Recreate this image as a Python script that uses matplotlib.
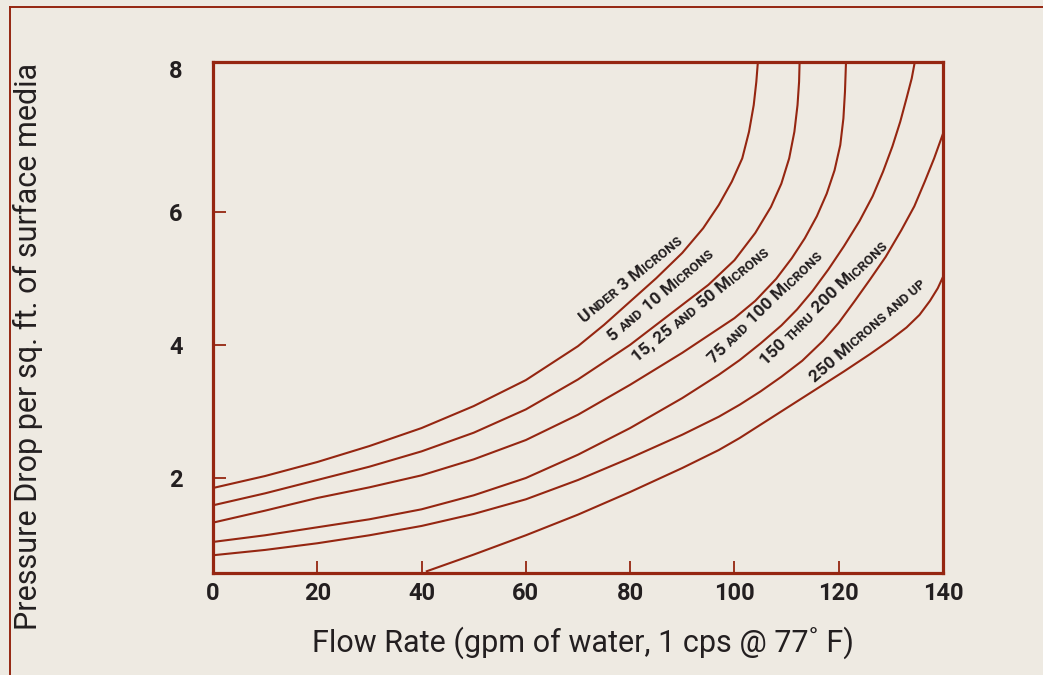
import numpy as np
import matplotlib
matplotlib.use("Agg")
from matplotlib import pyplot as plt
from matplotlib.transforms import ScaledTranslation

# curves: flow rate (gpm) vs pressure drop
flow_u3 = [0, 10, 20, 30, 40, 50, 60, 70, 75, 80, 85, 90, 94, 97, 99.5, 101.5,
           102.8, 103.7, 104.2, 104.5]
dp_u3 = [1.85, 2.03, 2.24, 2.48, 2.75, 3.08, 3.47, 3.98, 4.30, 4.65, 5.0, 5.38,
         5.75, 6.1, 6.45, 6.8, 7.2, 7.6, 7.95, 8.25]

flow_5_10 = [0, 10, 20, 30, 40, 50, 60, 70, 80, 85, 90, 95, 100, 104, 107, 109,
             110.5, 111.5, 112.1, 112.4, 112.5]
dp_5_10 = [1.59, 1.77, 1.97, 2.17, 2.40, 2.68, 3.03, 3.48, 4.0, 4.3, 4.6, 4.9,
           5.27, 5.68, 6.07, 6.42, 6.8, 7.2, 7.6, 7.95, 8.25]

flow_15_50 = [0, 10, 20, 30, 40, 50, 60, 70, 80, 90, 95, 100, 104, 108, 111,
              113.5, 115.8, 117.7, 119.2, 120.3, 120.9, 121.2, 121.4]
dp_15_50 = [1.33, 1.51, 1.70, 1.86, 2.04, 2.28, 2.57, 2.95, 3.40, 3.88, 4.14,
            4.40, 4.66, 4.99, 5.3, 5.6, 5.93, 6.27, 6.62, 7.0, 7.4, 7.8, 8.25]

flow_75_100 = [0, 10, 20, 30, 40, 50, 60, 70, 80, 90, 97, 101, 105, 109, 112, 115,
               118, 121, 124, 126.5, 128.5, 130.3, 131.8, 133, 134, 134.6]
dp_75_100 = [1.04, 1.14, 1.26, 1.38, 1.53, 1.74, 2.0, 2.35, 2.75, 3.2, 3.55, 3.77,
             4.02, 4.29, 4.53, 4.81, 5.13, 5.48, 5.86, 6.23, 6.6, 6.98, 7.35, 7.7,
             8.0, 8.25]

flow_150_200 = [0, 10, 20, 30, 40, 50, 60, 70, 80, 90, 97, 101, 105, 109, 113, 117,
                120, 123, 126, 129, 132, 134.5, 136.5, 138.3, 140]
dp_150_200 = [0.84, 0.92, 1.02, 1.14, 1.28, 1.46, 1.68, 1.97, 2.30, 2.65, 2.92,
              3.10, 3.3, 3.52, 3.76, 4.06, 4.33, 4.65, 4.98, 5.32, 5.72, 6.08, 6.45,
              6.8, 7.17]

flow_250 = [41, 50, 60, 70, 80, 90, 97, 101, 106, 111, 116, 121, 126, 130, 133,
            135.5, 137.5, 139, 140]
dp_250 = [0.6, 0.85, 1.14, 1.45, 1.79, 2.15, 2.42, 2.6, 2.85, 3.1, 3.35, 3.6,
          3.86, 4.08, 4.26, 4.45, 4.66, 4.85, 5.02]

x_ticks = [0, 20, 40, 60, 80, 100, 120, 140]
y_ticks = [2, 4, 6, 8]

# curve labels in small caps: (text, is_big_cap)
labels = [
    [("U", True), ("NDER", False), (" 3 M", True), ("ICRONS", False)],
    [("5 ", True), ("AND", False), (" 10 M", True), ("ICRONS", False)],
    [("15, 25 ", True), ("AND", False), (" 50 M", True), ("ICRONS", False)],
    [("75 ", True), ("AND", False), (" 100 M", True), ("ICRONS", False)],
    [("150 ", True), ("THRU", False), (" 200 M", True), ("ICRONS", False)],
    [("250 M", True), ("ICRONS AND UP", False)],
]
# label start (pixels from top-left) and angle
label_pos = [(587, 326, 39), (616, 345, 40.5), (640, 366, 39.5),
             (717, 367, 44.5), (769, 369, 44.5), (818, 386, 41)]

bg = "#eeeae2"
red = "#952611"
ink = "#231f20"
fam = ["Roboto", "DejaVu Sans"]

W, H = 1043, 675
fig = plt.figure(figsize=(W / 100, H / 100), dpi=100, facecolor=bg)
ax = fig.add_axes([213 / W, 1 - 572.7 / H, 730 / W, 511.2 / H])
ax.set_facecolor(bg)

for fx, dp in [(flow_u3, dp_u3), (flow_5_10, dp_5_10), (flow_15_50, dp_15_50),
               (flow_75_100, dp_75_100), (flow_150_200, dp_150_200), (flow_250, dp_250)]:
    ax.plot(fx, dp, color=red, lw=1.5, solid_joinstyle="round")

ax.set_xlim(0, 140)
ax.set_ylim(0.578, 8.254)
for s in ax.spines.values():
    s.set_color(red)
    s.set_linewidth(2.3)

ax.set_xticks(x_ticks)
ax.set_yticks(y_ticks)
ax.tick_params(direction="in", color=red, length=9, width=1.3)
ax.tick_params(axis="x", pad=7)
ax.tick_params(axis="y", pad=22)
for t in [ax.xaxis.get_major_ticks()[0], ax.xaxis.get_major_ticks()[-1],
          ax.yaxis.get_major_ticks()[-1]]:
    t.tick1line.set_visible(False)
for lab in ax.get_xticklabels() + ax.get_yticklabels():
    lab.set_fontfamily(fam)
    lab.set_fontweight("bold")
    lab.set_fontsize(17)
    lab.set_color(ink)
# the "8" sits level with the top of the frame
top_lab = ax.get_yticklabels()[-1]
top_lab.set_transform(top_lab.get_transform() + ScaledTranslation(0, 0.09, fig.dpi_scale_trans))

fig.text(583 / W, 1 - 643 / H, "Flow Rate (gpm of water, 1 cps @ 77\u02da F)",
         ha="center", va="center", fontsize=22, color=ink, family=fam)
fig.text(28 / W, 1 - 346 / H, "Pressure Drop per sq. ft. of surface media",
         ha="center", va="center", rotation=90, fontsize=22, color=ink, family=fam)

# frame lines at the top and left edge of the picture
fig.add_artist(plt.Line2D([10 / W, 10 / W], [0, 1 - 7 / H], transform=fig.transFigure,
                          color=red, lw=1.4))
fig.add_artist(plt.Line2D([10 / W, 1], [1 - 7 / H, 1 - 7 / H], transform=fig.transFigure,
                          color=red, lw=1.4))

renderer = fig.canvas.get_renderer()


def text_width(s, size):
    t1 = fig.text(0, 0, "|" + s + "|", fontsize=size, fontweight="bold", family=fam)
    t2 = fig.text(0, 0, "||", fontsize=size, fontweight="bold", family=fam)
    w = t1.get_window_extent(renderer).width - t2.get_window_extent(renderer).width
    t1.remove()
    t2.remove()
    return w


big, small = 12.5, 9.5
lift = 4.5  # gap between label baseline and its curve, px
for parts, (x0, y0, ang) in zip(labels, label_pos):
    c, s_ = np.cos(np.deg2rad(ang)), np.sin(np.deg2rad(ang))
    x = x0 - lift * s_
    y = H - y0 + lift * c
    for txt, is_big in parts:
        size = big if is_big else small
        fig.text(x / W, y / H, txt, rotation=ang, rotation_mode="anchor",
                 ha="left", va="baseline", fontsize=size, fontweight="bold",
                 color=ink, family=fam)
        w = text_width(txt, size)
        x += w * c
        y += w * s_

fig.savefig("out.png", dpi=100, facecolor=bg)
